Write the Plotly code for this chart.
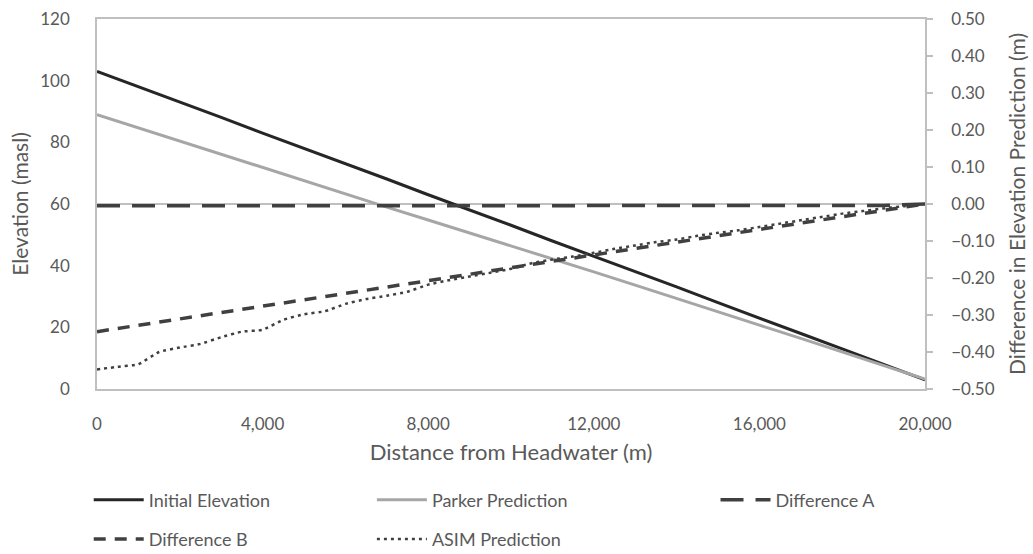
import plotly.graph_objects as go

# Distance along the channel (m)
distance = [0, 1000, 2000, 3000, 4000, 5000, 6000, 7000, 8000, 9000, 10000,
            11000, 12000, 13000, 14000, 15000, 16000, 17000, 18000, 19000, 20000]

# Elevation profiles (masl)
initial_elevation = [103.0, 98.1, 93.0, 88.1, 83.0, 78.1, 73.0, 68.1, 63.0, 58.1, 53.1,
                     48.0, 43.1, 38.0, 33.1, 28.0, 23.1, 18.0, 13.0, 8.0, 3.0]
parker_prediction = [89.0, 84.7, 80.4, 76.0, 71.8, 67.5, 63.2, 59.0, 54.8, 50.6, 46.6,
                     42.3, 38.0, 33.7, 29.3, 25.0, 20.7, 16.4, 12.0, 7.6, 3.2]

# Differences in elevation prediction (m)
difference_a = [-0.005, -0.005, -0.005, -0.005, -0.005, -0.005, -0.005, -0.005, -0.005, -0.005, -0.005,
                -0.005, -0.005, -0.005, -0.005, -0.005, -0.005, -0.005, -0.005, -0.004, 0.0]
difference_b = [-0.345, -0.328, -0.310, -0.293, -0.276, -0.259, -0.241, -0.224, -0.207, -0.190, -0.172,
                -0.155, -0.138, -0.121, -0.103, -0.086, -0.069, -0.052, -0.034, -0.017, 0.0]

asim_distance = [0, 500, 1000, 1500, 2000, 2500, 3000, 3500, 4000, 4500, 5000,
                 5500, 6000, 6500, 7000, 7500, 8000, 8500, 9000, 9500, 10000,
                 10500, 11000, 11500, 12000, 12500, 13000, 13500, 14000, 14500, 15000,
                 15500, 16000, 16500, 17000, 17500, 18000, 18500, 19000, 19500, 20000]
asim_prediction = [-0.447, -0.440, -0.433, -0.400, -0.388, -0.378, -0.360, -0.345, -0.340, -0.313, -0.298,
                   -0.290, -0.270, -0.257, -0.248, -0.237, -0.218, -0.206, -0.196, -0.186, -0.175,
                   -0.160, -0.150, -0.142, -0.132, -0.121, -0.112, -0.103, -0.096, -0.086, -0.078,
                   -0.071, -0.062, -0.053, -0.044, -0.035, -0.026, -0.019, -0.012, -0.006, 0.0]

x_ticks = [0, 4000, 8000, 12000, 16000, 20000]

FONT = "Lato"
TEXT = "#595959"
AXIS = "#bfbfbf"

fig = go.Figure()

fig.add_trace(go.Scatter(
    x=distance, y=initial_elevation, mode="lines", name="Initial Elevation",
    line=dict(color="#262626", width=3), legend="legend", legendgroup="a"))
fig.add_trace(go.Scatter(
    x=distance, y=difference_b, mode="lines", name="Difference B", yaxis="y2",
    line=dict(color="#404040", width=3.5, dash="12px,9px"), legend="legend", legendgroup="b"))
fig.add_trace(go.Scatter(
    x=distance, y=parker_prediction, mode="lines", name="Parker Prediction",
    line=dict(color="#a6a6a6", width=3), legend="legend2", legendgroup="c"))
fig.add_trace(go.Scatter(
    x=asim_distance, y=asim_prediction, mode="lines", name="ASIM Prediction", yaxis="y2",
    line=dict(color="#404040", width=2.5, dash="3px,4px", shape="spline", smoothing=0.5),
    legend="legend2", legendgroup="d"))
fig.add_trace(go.Scatter(
    x=distance, y=difference_a, mode="lines", name="Difference A", yaxis="y2",
    line=dict(color="#404040", width=3.5, dash="23px,12px"), legend="legend3", legendgroup="e"))

legend_common = dict(orientation="v", yanchor="top", y=-0.25, xanchor="left",
                     font=dict(family=FONT, size=18, color=TEXT), itemwidth=50,
                     bgcolor="rgba(0,0,0,0)", tracegroupgap=13, traceorder="grouped")

fig.update_layout(
    width=1033, height=554,
    margin=dict(l=97, r=108, t=19, b=165, autoexpand=False),
    paper_bgcolor="white", plot_bgcolor="white",
    font=dict(family=FONT, size=17, color=TEXT),
    xaxis=dict(
        range=[0, 20000], tickvals=x_ticks, tickformat=",d",
        showgrid=False, zeroline=False,
        showline=True, linecolor=AXIS, linewidth=1.5, mirror=True,
        ticks="", ticklabelstandoff=19,
        title=dict(text="Distance from Headwater (m)", font=dict(size=22), standoff=11),
    ),
    yaxis=dict(
        range=[0, 120], dtick=20, showgrid=False, zeroline=False,
        showline=True, linecolor=AXIS, linewidth=1.5,
        ticks="", ticklabelstandoff=22,
        title=dict(text="Elevation (masl)", font=dict(size=21), standoff=6),
    ),
    yaxis2=dict(
        range=[-0.5, 0.5], dtick=0.1, tickformat=".2f", overlaying="y", side="right",
        showgrid=False, zeroline=True, zerolinecolor=AXIS, zerolinewidth=1.5,
        showline=True, linecolor=AXIS, linewidth=1.5,
        ticks="outside", ticklen=6, tickcolor=AXIS, tickwidth=1.5, ticklabelstandoff=15,
        title=dict(text="Difference in Elevation Prediction (m)", font=dict(size=21), standoff=17),
    ),
    legend=dict(x=-0.01, **legend_common),
    legend2=dict(x=0.332, **legend_common),
    legend3=dict(x=0.747, **legend_common),
)

fig.write_html("out.html")
